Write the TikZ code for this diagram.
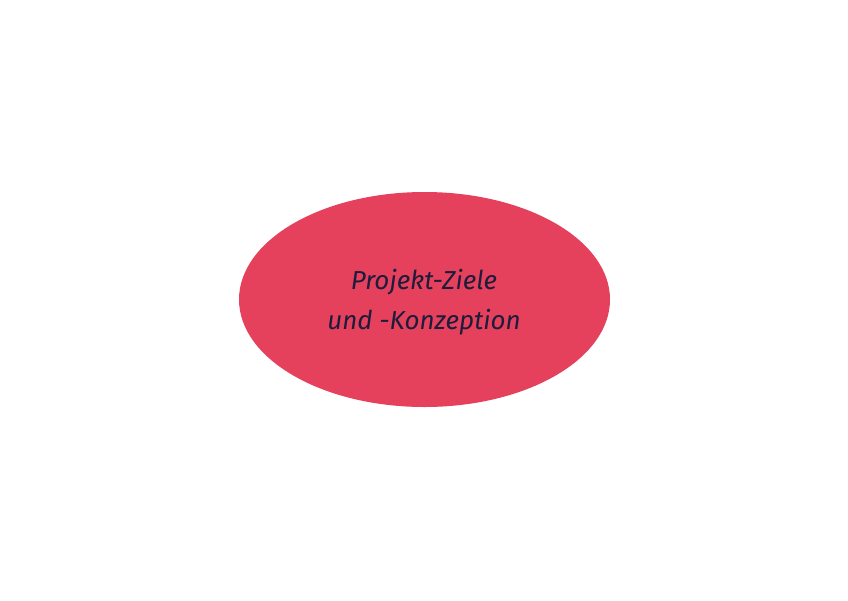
\documentclass[tikz,border=0pt]{standalone}
\usepackage{fontspec}
\usetikzlibrary{shapes.geometric}
\setmainfont{Fira Sans}
\definecolor{ellred}{HTML}{E5405C}
\definecolor{inkblue}{HTML}{1C1C3C}
\begin{document}
\begin{tikzpicture}[x=1pt,y=-1pt,
  blob/.style={ellipse, fill=ellred, draw=none, minimum width=371pt, minimum height=215pt, inner sep=0pt},
  label/.style={text=inkblue, align=center, font=\fontsize{26}{40}\selectfont\itshape}]
\useasboundingbox (0,0) rectangle (848,600);
\node[blob] (goal) at (424.5,299.5) {};
\node[label] (goaltext) at (424,302) {Projekt-Ziele\\und -Konzeption};
\end{tikzpicture}
\end{document}
